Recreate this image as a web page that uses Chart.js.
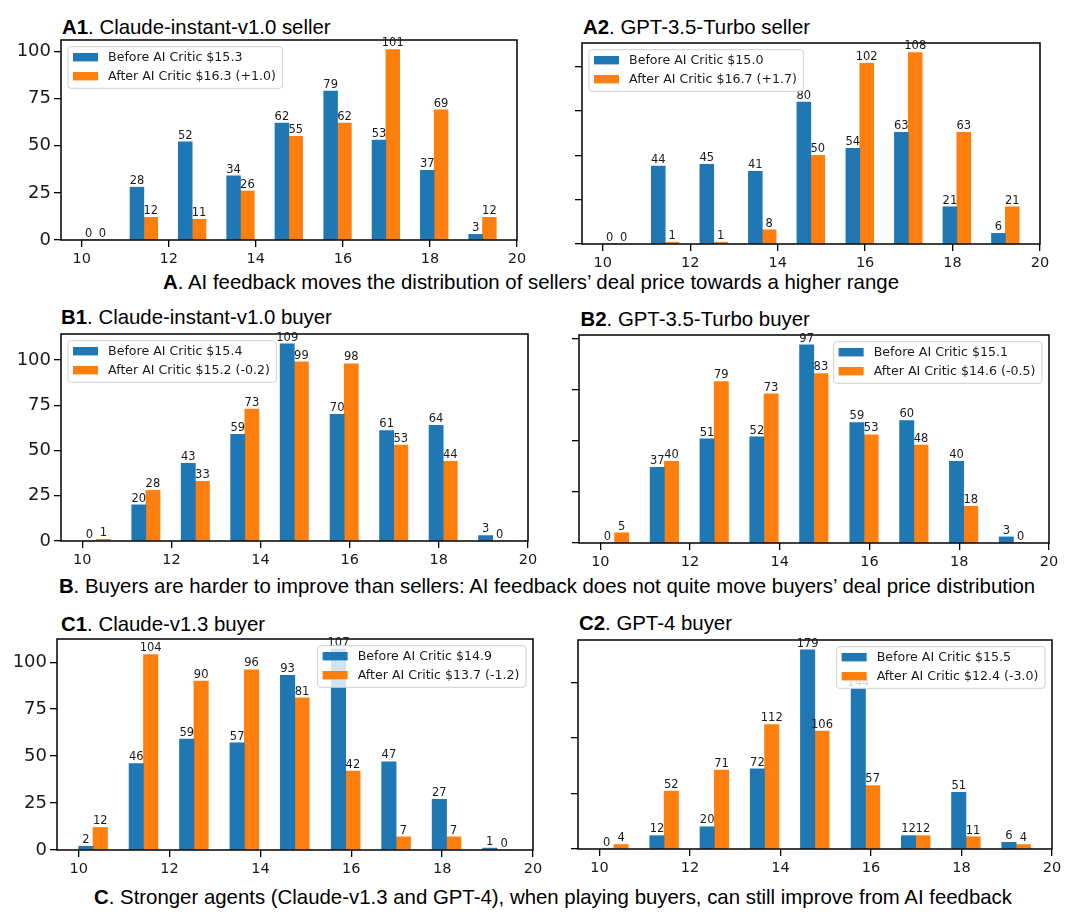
<!DOCTYPE html>
<html>
<head>
<meta charset="utf-8">
<script src="https://cdn.jsdelivr.net/npm/chart.js@4.4.1/dist/chart.umd.min.js"></script>
<style>
  body { margin: 0; background: #fff; width: 1080px; height: 917px; position: relative; overflow: hidden;
         font-family: "Liberation Sans", Arial, sans-serif; color: #000; }
  canvas { position: absolute; }
  .title, .caption { position: absolute; white-space: nowrap; font-size: 20.4px; line-height: 1; }
  .caption { transform: translateX(-50%); }
</style>
</head>
<body>

<div class="title" style="left:62px;top:17px"><b>A1</b>. Claude-instant-v1.0 seller</div>
<div class="title" style="left:583px;top:17px"><b>A2</b>. GPT-3.5-Turbo seller</div>
<div class="caption" style="left:531px;top:272px"><b>A</b>. AI feedback moves the distribution of sellers’ deal price towards a higher range</div>

<div class="title" style="left:61px;top:306.5px"><b>B1</b>. Claude-instant-v1.0 buyer</div>
<div class="title" style="left:580.5px;top:308.5px"><b>B2</b>. GPT-3.5-Turbo buyer</div>
<div class="caption" style="left:547px;top:576px"><b>B</b>. Buyers are harder to improve than sellers: AI feedback does not quite move buyers’ deal price distribution</div>

<div class="title" style="left:61px;top:613.5px"><b>C1</b>. Claude-v1.3 buyer</div>
<div class="title" style="left:579px;top:613px"><b>C2</b>. GPT-4 buyer</div>
<div class="caption" style="left:553px;top:886.5px"><b>C</b>. Stronger agents (Claude-v1.3 and GPT-4), when playing buyers, can still improve from AI feedback</div>

<script>
// 價格區間 (9 個 bin 的左邊界) 與刻度
const binEdges = [10, 11.11, 12.22, 13.33, 14.44, 15.56, 16.67, 17.78, 18.89];
const barWidth = 0.3175;
const xTicks = [10, 12, 14, 16, 18, 20];
const yTicksCount = [0, 25, 50, 75, 100];
const yTicksWide = [0, 50, 100, 150];

// A1 Claude-instant-v1.0 seller
const a1Before = [0, 28, 52, 34, 62, 79, 53, 37, 3];
const a1After = [0, 12, 11, 26, 55, 62, 101, 69, 12];
const a1Labels = ['Before AI Critic $15.3', 'After AI Critic $16.3 (+1.0)'];

// A2 GPT-3.5-Turbo seller
const a2Before = [0, 44, 45, 41, 80, 54, 63, 21, 6];
const a2After = [0, 1, 1, 8, 50, 102, 108, 63, 21];
const a2Labels = ['Before AI Critic $15.0', 'After AI Critic $16.7 (+1.7)'];

// B1 Claude-instant-v1.0 buyer
const b1Before = [0, 20, 43, 59, 109, 70, 61, 64, 3];
const b1After = [1, 28, 33, 73, 99, 98, 53, 44, 0];
const b1Labels = ['Before AI Critic $15.4', 'After AI Critic $15.2 (-0.2)'];

// B2 GPT-3.5-Turbo buyer
const b2Before = [0, 37, 51, 52, 97, 59, 60, 40, 3];
const b2After = [5, 40, 79, 73, 83, 53, 48, 18, 0];
const b2Labels = ['Before AI Critic $15.1', 'After AI Critic $14.6 (-0.5)'];

// C1 Claude-v1.3 buyer
const c1Before = [2, 46, 59, 57, 93, 107, 47, 27, 1];
const c1After = [12, 104, 90, 96, 81, 42, 7, 7, 0];
const c1Labels = ['Before AI Critic $14.9', 'After AI Critic $13.7 (-1.2)'];

// C2 GPT-4 buyer
const c2Before = [0, 12, 20, 72, 179, 144, 12, 51, 6];
const c2After = [4, 52, 71, 112, 106, 57, 12, 11, 4];
const c2Labels = ['Before AI Critic $15.5', 'After AI Critic $12.4 (-3.0)'];

const BLUE = '#1f77b4';
const ORANGE = '#ff7f0e';
const TEXT = '#1a1a1a';

// 每個子圖的繪圖區 [left, top, right, bottom]（頁面座標）
const panels = [
    { before: a1Before, after: a1After, labels: a1Labels, yTicks: yTicksCount, plot: [61, 40, 517, 240], side: 'left', yLabels: true },
    { before: a2Before, after: a2After, labels: a2Labels, yTicks: yTicksCount, plot: [582, 43, 1040, 244], side: 'left', yLabels: false },
    { before: b1Before, after: b1After, labels: b1Labels, yTicks: yTicksCount, plot: [61, 334, 528, 541], side: 'left', yLabels: true },
    { before: b2Before, after: b2After, labels: b2Labels, yTicks: yTicksCount, plot: [579, 335, 1049, 543], side: 'right', yLabels: false },
    { before: c1Before, after: c1After, labels: c1Labels, yTicks: yTicksCount, plot: [57, 639, 533, 850], side: 'right', yLabels: true },
    { before: c2Before, after: c2After, labels: c2Labels, yTicks: yTicksWide, plot: [578, 640, 1052, 849], side: 'right', yLabels: false }
];

const AXIS_W = 54;
const AXIS_H = 30;
const PAD_T = 16;
const PAD_R = 14;

// 外框 + 數值標籤
const frameAndLabels = {
    id: 'frameAndLabels',
    afterDatasetsDraw(chart) {
        const { ctx, chartArea: a } = chart;
        ctx.save();
        ctx.strokeStyle = '#000';
        ctx.lineWidth = 1.5;
        ctx.strokeRect(a.left, a.top, a.right - a.left, a.bottom - a.top);

        ctx.font = '11.5px "DejaVu Sans"';
        ctx.fillStyle = TEXT;
        ctx.textAlign = 'center';
        ctx.textBaseline = 'bottom';
        chart.data.datasets.forEach((ds, i) => {
            chart.getDatasetMeta(i).data.forEach((bar, j) => {
                ctx.fillText(String(ds.data[j].y), bar.x, bar.y - 0.5);
            });
        });
        ctx.restore();
    }
};

// matplotlib 風格的圖例（畫在繪圖區內）
const boxLegend = {
    id: 'boxLegend',
    afterDraw(chart, args, opts) {
        const { ctx, chartArea: a } = chart;
        const sets = chart.data.datasets;
        ctx.save();
        ctx.font = '12.6px "DejaVu Sans"';
        const textW = Math.max(...sets.map(d => ctx.measureText(d.label).width));
        const boxW = 5 + 25 + 10 + textW + 6.5;
        const boxH = 41.6;
        const x = opts.side === 'left' ? a.left + 7 : a.right - 7 - boxW;
        const y = a.top + 6.7;

        ctx.beginPath();
        ctx.roundRect(x, y, boxW, boxH, 3);
        ctx.fillStyle = 'rgba(255,255,255,0.8)';
        ctx.fill();
        ctx.strokeStyle = '#d0d0d0';
        ctx.lineWidth = 1;
        ctx.stroke();

        sets.forEach((ds, i) => {
            const cy = y + 10.5 + i * 19;
            ctx.fillStyle = ds.backgroundColor;
            ctx.fillRect(x + 5, cy - 4.2, 25, 8.4);
            ctx.fillStyle = TEXT;
            ctx.textAlign = 'left';
            ctx.textBaseline = 'middle';
            ctx.fillText(ds.label, x + 40, cy + 0.5);
        });
        ctx.restore();
    }
};

function makePanel(p) {
    const [L, T, R, B] = p.plot;
    const canvas = document.createElement('canvas');
    const w = (R - L) + AXIS_W + PAD_R;
    const h = (B - T) + PAD_T + AXIS_H;
    canvas.width = w;
    canvas.height = h;
    canvas.style.left = (L - AXIS_W) + 'px';
    canvas.style.top = (T - PAD_T) + 'px';
    canvas.style.width = w + 'px';
    canvas.style.height = h + 'px';
    document.body.appendChild(canvas);

    const yMax = Math.max(...p.before, ...p.after) * 1.05;
    const tickFont = { family: 'DejaVu Sans', size: 14.5 };

    new Chart(canvas, {
        type: 'bar',
        data: {
            datasets: [
                {
                    label: p.labels[0],
                    data: binEdges.map((e, i) => ({ x: e + barWidth / 2, y: p.before[i] })),
                    backgroundColor: BLUE
                },
                {
                    label: p.labels[1],
                    data: binEdges.map((e, i) => ({ x: e + barWidth * 1.5, y: p.after[i] })),
                    backgroundColor: ORANGE
                }
            ]
        },
        options: {
            responsive: false,
            animation: false,
            devicePixelRatio: window.devicePixelRatio || 1,
            grouped: false,
            barPercentage: 1,
            categoryPercentage: 1,
            layout: { padding: { left: 0, top: PAD_T, right: PAD_R, bottom: 0 } },
            plugins: {
                legend: { display: false },
                tooltip: { enabled: false },
                boxLegend: { side: p.side }
            },
            scales: {
                x: {
                    type: 'linear',
                    offset: false,
                    min: 9.524,
                    max: 20.0,
                    afterBuildTicks: s => { s.ticks = xTicks.map(v => ({ value: v })); },
                    afterFit: s => { s.height = AXIS_H; },
                    grid: { display: true, offset: false, drawOnChartArea: false, drawTicks: true, tickLength: 7, color: '#000', lineWidth: 1.3 },
                    border: { display: false },
                    ticks: { color: TEXT, font: tickFont, padding: 4, maxRotation: 0 }
                },
                y: {
                    type: 'linear',
                    min: 0,
                    max: yMax,
                    afterBuildTicks: s => { s.ticks = p.yTicks.map(v => ({ value: v })); },
                    afterFit: s => { s.width = AXIS_W; },
                    grid: { display: true, drawOnChartArea: false, drawTicks: true, tickLength: 7, color: '#000', lineWidth: 1.3 },
                    border: { display: false },
                    ticks: {
                        color: TEXT,
                        font: { family: 'DejaVu Sans', size: 18 },
                        padding: 3,
                        callback: v => (p.yLabels ? String(v) : '')
                    }
                }
            }
        },
        plugins: [frameAndLabels, boxLegend]
    });
}

panels.forEach(makePanel);
</script>
</body>
</html>
